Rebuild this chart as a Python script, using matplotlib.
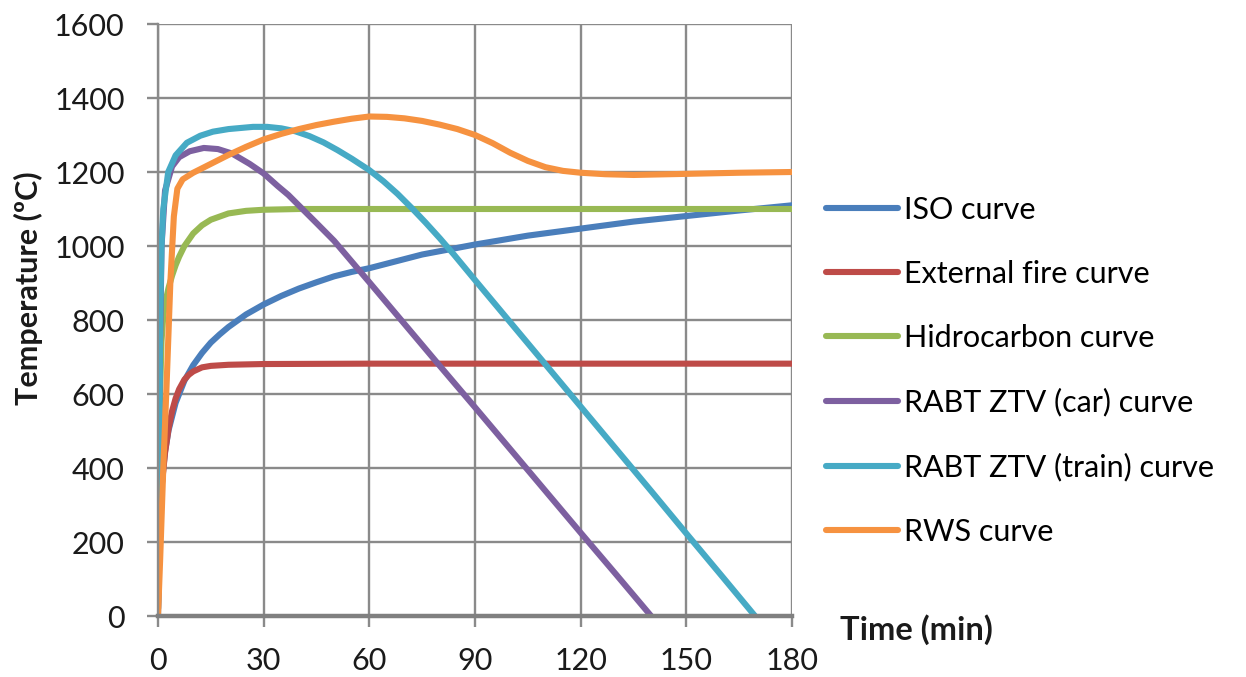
import matplotlib.pyplot as plt
from matplotlib.lines import Line2D

plt.rcParams['font.family'] = ['Lato', 'DejaVu Sans']

# fire curves, temperature in degC against time in minutes
iso_t = [0, 0.5, 1, 2, 3, 5, 7.5, 10, 12.5, 15, 17.5, 20, 25, 30, 35, 40, 45, 50, 55, 60,
         75, 90, 105, 120, 135, 150, 165, 180]
iso_T = [20, 261, 349, 445, 502, 576, 636, 678, 711, 739, 761, 781, 815, 842, 865, 885, 902, 918, 930, 940,
         977, 1004, 1028, 1047, 1066, 1081, 1096, 1110]

ext_t = [0, 0.5, 1, 2, 3, 4, 5, 6, 7.5, 8.75, 10, 12.5, 15, 20, 30, 60, 90, 120, 150, 180]
ext_T = [20, 263, 346, 441, 506, 554, 588, 613, 639, 652, 661, 672, 676, 679, 681, 682, 682, 682, 682, 682]

hc_t = [0, 0.5, 1, 1.5, 2, 3, 4, 5, 6, 7.5, 10, 12.5, 15, 20, 25, 30, 40, 60, 90, 120, 150, 180]
hc_T = [20, 568, 743, 810, 844, 887, 920, 948, 971, 1000, 1034, 1056, 1071, 1088, 1095, 1098, 1100, 1100, 1100, 1100, 1100, 1100]

car_t = [0, 0.4, 1, 2, 4, 6, 9, 13, 17, 21, 26, 30, 34, 37, 41, 45, 50, 55, 60, 70, 80, 90,
         100, 110, 120, 130, 140]
car_T = [0, 600, 1000, 1150, 1215, 1240, 1256, 1265, 1262, 1250, 1222, 1196, 1162, 1138, 1100, 1062, 1014, 958, 902, 789, 676, 564,
         451, 338, 225, 113, 0]

train_t = [0, 0.3, 0.6, 1, 1.5, 2.9, 5, 8.2, 12, 15.6, 20, 27, 31, 35, 39, 43, 47, 51, 55, 60, 64, 68, 72, 76, 80, 84,
           90, 100, 110, 120, 130, 140, 150, 160, 169.5]
train_T = [0, 400, 800, 1000, 1100, 1200, 1245, 1279, 1298, 1309, 1316, 1322, 1322, 1318, 1310, 1297, 1280, 1259, 1236, 1205, 1175, 1141, 1103, 1063, 1021, 977,
           908, 794, 680, 566, 452, 338, 223, 109, 0]

rws_t = [0, 0.6, 1.5, 2.5, 3.5, 4.5, 5.5, 7, 10, 15, 20, 25, 30, 35, 40, 45, 50, 55, 60, 65, 70, 75, 80, 85,
         90, 95, 100, 105, 110, 115, 120, 127, 135, 150, 165, 180]
rws_T = [0, 150, 400, 640, 900, 1080, 1155, 1180, 1198, 1222, 1246, 1268, 1288, 1303, 1316, 1327, 1336, 1344, 1350, 1349, 1345, 1338, 1328, 1316,
         1300, 1278, 1252, 1230, 1213, 1203, 1198, 1194, 1192, 1195, 1198, 1200]

labels = ['ISO curve', 'External fire curve', 'Hidrocarbon curve',
          'RABT ZTV (car) curve', 'RABT ZTV (train) curve', 'RWS curve']
colors = ['#4A7EBB', '#BE4B48', '#98B954', '#7D60A0', '#46AAC5', '#F69240']
series = [(iso_t, iso_T), (ext_t, ext_T), (hc_t, hc_T),
          (car_t, car_T), (train_t, train_T), (rws_t, rws_T)]

fig = plt.figure(figsize=(12.46, 6.77), dpi=100)
ax = fig.add_axes([158 / 1246, 61 / 677, 634 / 1246, 592 / 677])

grid_c = '#8a8a8a'
ax.set_xlim(0, 180)
ax.set_ylim(0, 1600)
ax.set_xticks(range(0, 181, 30))
ax.set_yticks(range(0, 1601, 200))
ax.grid(True, color=grid_c, linewidth=1.7)
ax.set_axisbelow(True)
for side in ['top', 'right']:
    ax.spines[side].set_visible(False)
ax.spines['left'].set_color(grid_c)
ax.spines['left'].set_linewidth(1.7)
ax.spines['bottom'].set_color('#808080')
ax.spines['bottom'].set_linewidth(3.2)
ax.tick_params(axis='both', colors=grid_c, width=1.7, length=8, labelsize=22,
               labelcolor='#1a1a1a')
ax.tick_params(axis='x', pad=14)
ax.tick_params(axis='y', pad=16)

lw = 4.4
handles = []
for (t, T), c, lab in zip(series, colors, labels):
    ax.plot(t, T, color=c, linewidth=lw, solid_capstyle='round', solid_joinstyle='round')
    handles.append(Line2D([], [], color=c, linewidth=lw, solid_capstyle='round'))

fig.legend(handles, labels, loc='upper left', bbox_to_anchor=(826 / 1246, 1 - 196 / 677),
           frameon=False, fontsize=22, handlelength=2.35, handletextpad=0.2,
           labelspacing=1.18, borderpad=0, borderaxespad=0)

fig.text(28 / 1246, 1 - 288 / 677, 'Temperature (ºC)', rotation=90, ha='center', va='center',
         fontsize=22, fontweight='bold', color='#1a1a1a')
fig.text(840 / 1246, 1 - 630 / 677, 'Time (min)', ha='left', va='center',
         fontsize=23.5, fontweight='bold', color='#1a1a1a')

fig.savefig('out.png', dpi=100)
